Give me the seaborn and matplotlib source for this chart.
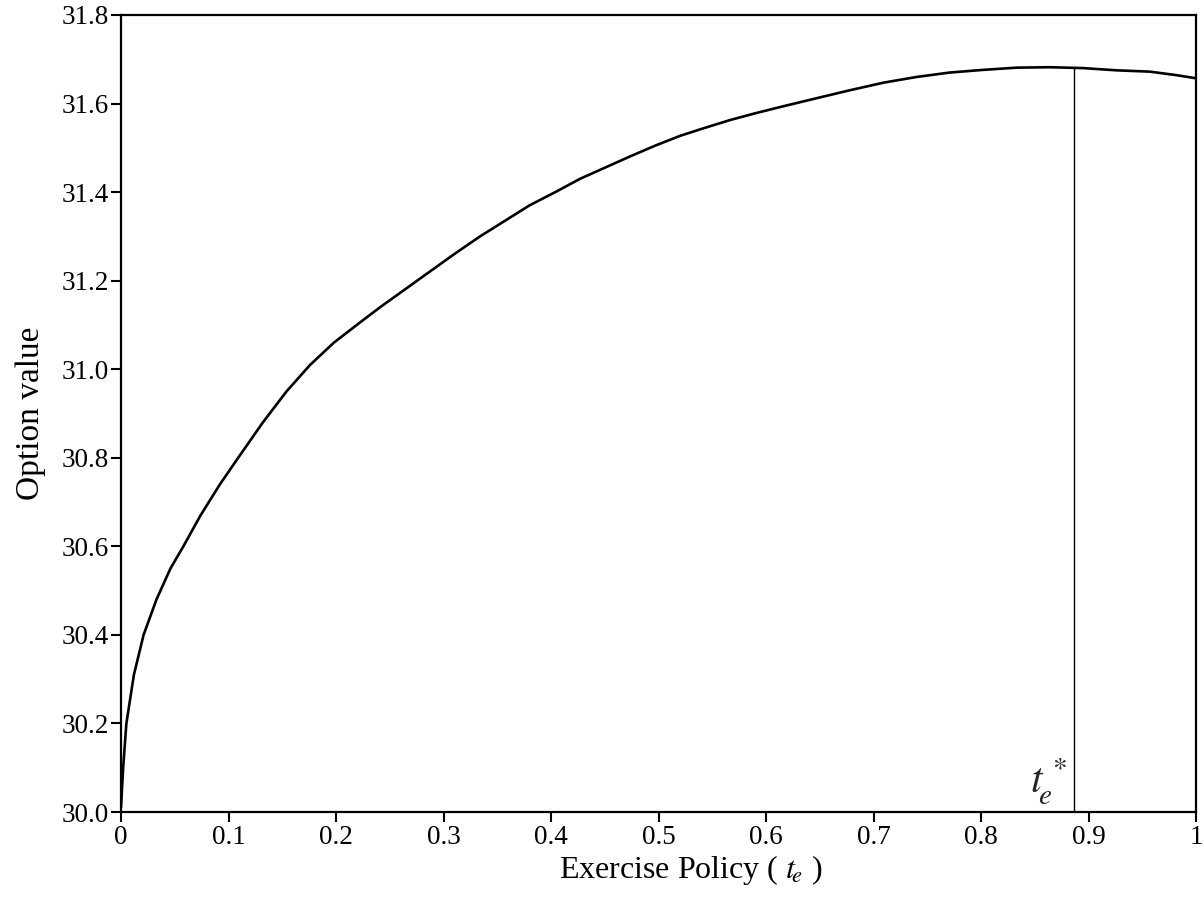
import numpy as np
import pandas as pd
import matplotlib
matplotlib.use("Agg")
import matplotlib.pyplot as plt
import seaborn as sns

# values
exercise_policy = [0.0, 0.002, 0.005, 0.012, 0.021, 0.033, 0.046, 0.058, 0.074,
                   0.092, 0.109, 0.132, 0.154, 0.176, 0.198, 0.222, 0.241, 0.264,
                   0.287, 0.310, 0.334, 0.357, 0.380, 0.404, 0.427, 0.450, 0.473,
                   0.497, 0.520, 0.543, 0.567, 0.590, 0.613, 0.647, 0.678, 0.709,
                   0.740, 0.771, 0.802, 0.833, 0.864, 0.895, 0.926, 0.957, 0.982, 1.0]
option_value = [30.01, 30.10, 30.20, 30.31, 30.40, 30.48, 30.55, 30.60, 30.67,
                30.74, 30.80, 30.88, 30.95, 31.01, 31.06, 31.105, 31.14, 31.18,
                31.22, 31.26, 31.30, 31.335, 31.37, 31.40, 31.43, 31.455, 31.48,
                31.505, 31.527, 31.545, 31.563, 31.578, 31.592, 31.612, 31.63, 31.647,
                31.66, 31.67, 31.676, 31.681, 31.682, 31.680, 31.675, 31.672, 31.664, 31.657]
optimal_te = 0.8865
optimal_value = 31.681

x_ticks = [0, 0.1, 0.2, 0.3, 0.4, 0.5, 0.6, 0.7, 0.8, 0.9, 1.0]
x_tick_labels = ["0", "0.1", "0.2", "0.3", "0.4", "0.5", "0.6", "0.7", "0.8", "0.9", "1"]
y_ticks = [30.0, 30.2, 30.4, 30.6, 30.8, 31.0, 31.2, 31.4, 31.6, 31.8]

df = pd.DataFrame({"te": exercise_policy, "value": option_value})

sns.set_theme(style="ticks")
plt.rcParams["font.family"] = ["Liberation Serif", "DejaVu Serif"]
plt.rcParams["mathtext.fontset"] = "stix"

fig = plt.figure(figsize=(12.04, 9.07), dpi=100)
ax = fig.add_axes([0.1005, 0.1047, 0.8929, 0.8788])

sns.lineplot(data=df, x="te", y="value", ax=ax, color="black", linewidth=1.9)
ax.vlines(optimal_te, y_ticks[0], optimal_value, color="black", linewidth=1.0)
ax.text(optimal_te - 0.006, y_ticks[0] + 0.012, r"$t_{\!e}^{\,*}$", fontsize=30,
        ha="right", va="bottom")

ax.set_xlim(0, 1)
ax.set_ylim(30.0, 31.8)
ax.set_xticks(x_ticks)
ax.set_xticklabels(x_tick_labels)
ax.set_yticks(y_ticks)
ax.set_yticklabels([f"{v:.1f}" for v in y_ticks])
ax.tick_params(axis="both", labelsize=19.5, length=7, width=1.5, color="black",
               labelcolor="black", pad=2)
for side in ["left", "right", "top", "bottom"]:
    ax.spines[side].set_visible(True)
    ax.spines[side].set_color("black")
    ax.spines[side].set_linewidth(1.6)

ax.set_xlabel(r"Exercise Policy ( $t_{\!e}$ )", fontsize=23, color="black")
ax.xaxis.set_label_coords(0.53, -0.052, transform=ax.transAxes)
ax.set_ylabel("Option value", fontsize=24, color="black")
ax.yaxis.set_label_coords(-0.07, 0.5, transform=ax.transAxes)

fig.savefig("out.png", dpi=100)
